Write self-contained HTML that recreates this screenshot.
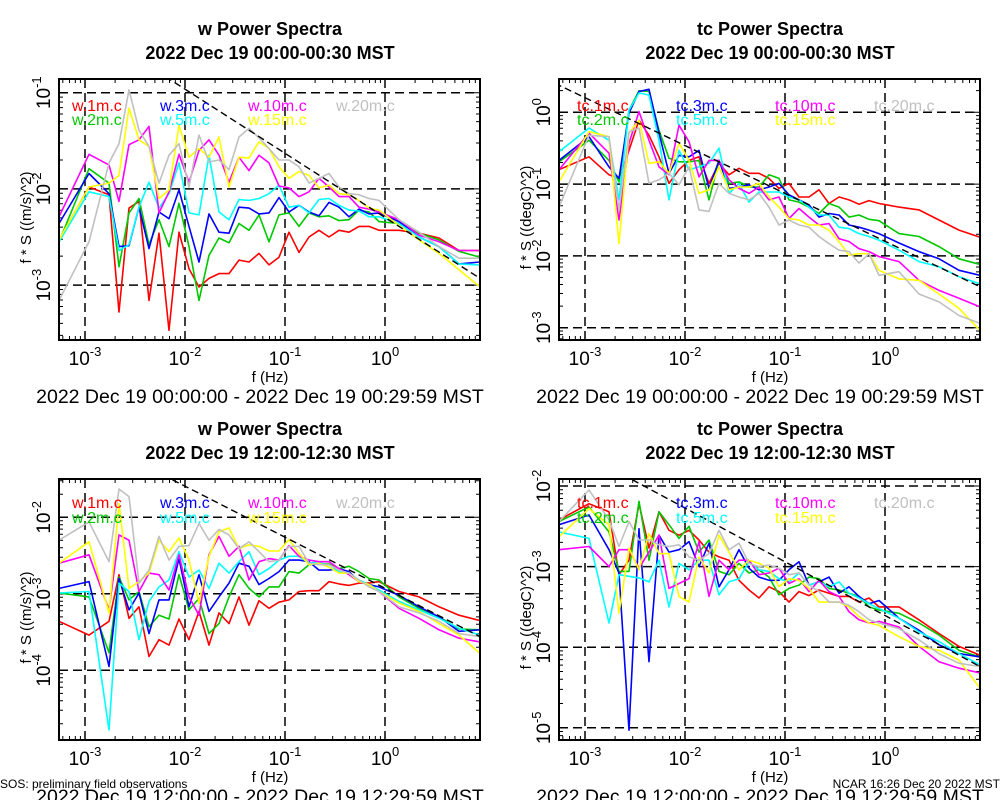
<!DOCTYPE html>
<html><head><meta charset="utf-8"><style>
html,body{margin:0;padding:0;background:#fff;}
svg{display:block;font-family:"Liberation Sans",sans-serif;}
</style></head><body>
<svg id="fig" width="1000" height="800" viewBox="0 0 1000 800"></svg>
<script>
// ---- data (log10 of frequency in Hz, log10 of f*S) ----
const freqLog10 = [-3.26,-2.96,-2.76,-2.66,-2.56,-2.46,-2.36,-2.26,-2.16,-2.06,-1.96,-1.86,-1.76,-1.66,-1.56,-1.46,-1.36,-1.26,-1.16,-1.06,-0.96,-0.86,-0.76,-0.66,-0.56,-0.46,-0.36,-0.26,-0.16,-0.06,0.14,0.34,0.54,0.74,0.95];
const seriesNames = ["1m","2m","3m","5m","10m","15m","20m"];
// panel 1: w, 00:00
const w00_1m = [-2.53,-1.98,-2.06,-3.28,-2.20,-2.13,-3.16,-2.46,-3.47,-2.45,-2.83,-3.02,-2.93,-2.88,-2.88,-2.74,-2.76,-2.67,-2.79,-2.71,-2.45,-2.66,-2.50,-2.43,-2.50,-2.43,-2.45,-2.39,-2.39,-2.43,-2.43,-2.46,-2.51,-2.64,-2.64];
const w00_2m = [-2.55,-1.79,-1.94,-2.81,-2.25,-2.10,-2.58,-2.32,-2.60,-2.15,-2.60,-3.16,-2.69,-2.51,-2.56,-2.36,-2.43,-2.27,-2.55,-2.27,-2.25,-2.39,-2.25,-2.29,-2.28,-2.33,-2.32,-2.22,-2.24,-2.34,-2.36,-2.46,-2.53,-2.65,-2.71];
const w00_3m = [-2.36,-1.84,-2.05,-2.60,-2.59,-2.19,-2.62,-2.24,-2.31,-2.01,-2.39,-2.76,-2.26,-2.45,-2.46,-2.19,-2.20,-2.26,-2.25,-2.09,-2.24,-2.17,-2.24,-2.28,-2.14,-2.19,-2.29,-2.21,-2.26,-2.25,-2.34,-2.50,-2.60,-2.78,-2.76];
const w00_5m = [-2.55,-2.03,-2.08,-2.64,-2.58,-2.19,-1.93,-2.20,-2.05,-1.73,-2.25,-2.27,-1.65,-2.24,-2.32,-2.11,-2.12,-2.10,-2.05,-1.96,-2.19,-2.17,-2.25,-2.11,-2.10,-2.17,-2.22,-2.23,-2.29,-2.29,-2.36,-2.50,-2.60,-2.78,-2.79];
const w00_10m = [-2.29,-1.64,-1.75,-2.13,-1.54,-1.49,-1.35,-2.25,-2.03,-1.64,-1.93,-1.60,-1.49,-1.65,-1.93,-1.67,-1.81,-1.65,-1.73,-1.97,-1.99,-2.08,-2.03,-1.89,-1.98,-2.08,-2.08,-2.19,-2.21,-2.24,-2.32,-2.48,-2.55,-2.64,-2.64];
const w00_15m = [-2.53,-1.98,-1.94,-1.86,-1.16,-1.49,-1.56,-2.10,-2.01,-1.34,-1.67,-1.58,-1.67,-1.46,-1.98,-1.67,-1.68,-1.51,-1.58,-1.77,-1.89,-1.82,-1.86,-1.99,-1.96,-2.05,-2.06,-2.12,-2.20,-2.22,-2.38,-2.53,-2.67,-2.84,-3.02];
const w00_20m = [-3.16,-2.55,-1.73,-1.53,-0.97,-1.39,-1.56,-1.94,-1.65,-1.53,-1.98,-1.44,-1.72,-1.70,-1.80,-1.46,-1.37,-1.47,-1.58,-1.70,-1.70,-1.77,-1.94,-1.89,-1.84,-1.98,-2.05,-2.06,-2.10,-2.12,-2.32,-2.45,-2.60,-2.72,-2.72];
// panel 2: tc, 00:00
const tc00_1m = [-0.80,-0.62,-0.87,-0.92,-0.53,-0.11,-0.32,-0.62,-0.99,-0.80,-0.67,-0.62,-0.99,-0.71,-0.87,-0.78,-0.85,-0.85,-0.92,-1.06,-0.99,-1.18,-1.18,-1.08,-1.27,-1.18,-1.22,-1.28,-1.23,-1.27,-1.32,-1.36,-1.50,-1.64,-1.74];
const tc00_2m = [-0.69,-0.39,-0.67,-0.97,0.03,0.30,0.29,-0.25,-0.64,-0.69,-0.69,-0.67,-1.22,-0.67,-0.99,-0.97,-1.04,-1.04,-0.87,-0.92,-1.22,-1.25,-1.32,-1.41,-1.27,-1.32,-1.46,-1.43,-1.49,-1.51,-1.69,-1.73,-1.87,-2.04,-2.12];
const tc00_3m = [-0.67,-0.34,-0.76,-0.92,-0.01,0.29,0.32,-0.29,-0.85,-0.60,-0.62,-0.53,-1.06,-0.67,-1.06,-1.04,-1.01,-1.08,-1.04,-0.99,-1.15,-1.22,-1.29,-1.46,-1.41,-1.43,-1.57,-1.60,-1.64,-1.69,-1.82,-1.94,-2.04,-2.20,-2.27];
const tc00_5m = [-0.55,-0.22,-0.39,-1.22,0.03,0.27,0.24,-0.39,-1.22,-0.53,-0.80,-0.76,-0.71,-0.50,-1.13,-0.99,-1.25,-1.11,-1.11,-1.11,-1.18,-1.22,-1.32,-1.43,-1.43,-1.60,-1.62,-1.69,-1.73,-1.78,-1.92,-2.08,-2.15,-2.29,-2.39];
const tc00_10m = [-0.80,-0.29,-0.57,-1.50,-0.43,0.01,-0.39,-0.76,-0.87,-0.18,-0.41,-0.90,-0.67,-0.67,-0.94,-1.06,-1.13,-1.04,-1.22,-1.18,-1.48,-1.34,-1.46,-1.57,-1.55,-1.76,-1.80,-1.90,-1.94,-2.01,-2.08,-2.34,-2.48,-2.59,-2.71];
const tc00_15m = [-0.97,-0.27,-0.34,-1.83,-0.29,-0.11,-0.71,-0.69,-0.85,-0.43,-0.67,-1.13,-1.08,-0.76,-1.08,-1.04,-1.04,-0.99,-1.18,-1.32,-1.48,-1.50,-1.57,-1.57,-1.64,-1.80,-1.99,-1.97,-1.97,-2.20,-2.32,-2.34,-2.53,-2.73,-3.04];
const tc00_20m = [-1.32,-0.32,-0.34,-1.36,-0.27,-0.22,-0.99,-0.94,-0.85,-1.01,-0.76,-1.36,-1.38,-0.99,-1.13,-1.18,-1.22,-1.13,-1.32,-1.57,-1.50,-1.57,-1.60,-1.73,-1.83,-1.92,-1.94,-2.10,-1.97,-2.27,-2.22,-2.53,-2.64,-2.83,-2.94];
// panel 3: w, 12:00
const w12_1m = [-3.36,-3.54,-3.36,-2.75,-3.32,-3.17,-3.82,-3.60,-3.67,-3.33,-3.60,-3.23,-3.67,-3.25,-3.39,-3.04,-3.41,-3.09,-3.19,-3.11,-3.08,-2.97,-2.96,-2.96,-2.84,-2.87,-2.89,-2.86,-2.86,-2.84,-2.97,-3.04,-3.17,-3.28,-3.35];
const w12_2m = [-2.99,-3.04,-3.77,-2.78,-3.08,-2.97,-3.43,-3.28,-3.33,-2.75,-3.21,-3.06,-3.52,-3.39,-3.04,-2.75,-2.93,-3.04,-2.91,-2.91,-2.71,-2.73,-2.62,-2.61,-2.61,-2.67,-2.64,-2.71,-2.80,-2.82,-3.04,-3.19,-3.30,-3.46,-3.47];
const w12_3m = [-2.93,-2.84,-3.95,-2.80,-3.21,-2.99,-3.52,-3.08,-3.08,-2.54,-3.17,-2.75,-3.23,-3.04,-2.86,-2.60,-2.64,-2.88,-2.80,-2.71,-2.56,-2.56,-2.58,-2.69,-2.69,-2.67,-2.71,-2.84,-2.88,-2.91,-3.02,-3.17,-3.30,-3.49,-3.47];
const w12_5m = [-2.99,-2.97,-4.78,-2.86,-2.97,-3.60,-3.10,-2.91,-2.82,-2.45,-2.78,-2.69,-2.93,-2.60,-2.73,-2.58,-2.45,-2.75,-2.67,-2.56,-2.51,-2.51,-2.60,-2.58,-2.65,-2.71,-2.73,-2.82,-2.88,-2.95,-3.10,-3.21,-3.32,-3.45,-3.54];
const w12_10m = [-2.60,-2.49,-3.21,-2.23,-2.30,-2.97,-2.73,-2.75,-2.95,-2.49,-3.04,-3.28,-2.49,-2.25,-2.51,-2.38,-2.82,-2.58,-2.54,-2.56,-2.37,-2.51,-2.56,-2.58,-2.58,-2.67,-2.75,-2.84,-2.88,-2.97,-3.19,-3.32,-3.47,-3.58,-3.63];
const w12_15m = [-2.60,-2.32,-3.25,-1.82,-2.93,-2.84,-2.73,-2.30,-2.45,-2.27,-2.56,-3.12,-2.51,-2.19,-2.14,-2.41,-2.36,-2.38,-2.44,-2.44,-2.29,-2.47,-2.62,-2.60,-2.65,-2.73,-2.73,-2.84,-2.88,-2.97,-3.12,-3.23,-3.39,-3.54,-3.78];
const w12_20m = [-2.30,-2.06,-2.58,-1.63,-1.73,-2.86,-2.69,-2.25,-2.56,-2.38,-2.37,-2.08,-2.30,-2.16,-2.23,-2.41,-2.32,-2.45,-2.58,-2.56,-2.38,-2.38,-2.60,-2.62,-2.62,-2.69,-2.73,-2.82,-2.91,-2.97,-3.17,-3.25,-3.36,-3.52,-3.56];
// panel 4: tc, 12:00
const tc12_1m = [-2.42,-2.22,-2.32,-3.10,-2.92,-2.22,-2.77,-2.32,-2.55,-2.61,-2.55,-2.67,-2.82,-2.88,-2.92,-3.17,-3.29,-3.39,-3.25,-3.31,-3.44,-3.31,-3.36,-3.29,-3.33,-3.37,-3.37,-3.44,-3.39,-3.50,-3.50,-3.66,-3.83,-3.99,-4.10];
const tc12_2m = [-2.44,-2.26,-2.57,-3.06,-3.06,-2.19,-2.92,-2.32,-2.48,-2.65,-2.50,-2.82,-2.67,-3.06,-3.10,-2.96,-3.08,-3.04,-3.13,-3.35,-3.27,-3.23,-3.13,-3.15,-3.27,-3.29,-3.33,-3.37,-3.50,-3.54,-3.58,-3.70,-3.85,-4.04,-4.12];
const tc12_3m = [-2.48,-2.36,-2.79,-3.08,-5.03,-2.53,-4.18,-2.61,-2.82,-2.79,-2.69,-3.00,-2.71,-3.25,-3.04,-2.79,-3.02,-3.13,-3.17,-3.17,-3.04,-2.94,-3.23,-3.19,-3.13,-3.33,-3.25,-3.37,-3.46,-3.42,-3.64,-3.79,-3.97,-4.08,-4.12];
const tc12_5m = [-2.57,-2.65,-3.70,-3.10,-3.12,-3.14,-3.19,-2.92,-3.50,-2.96,-3.04,-2.92,-2.92,-3.35,-3.19,-3.15,-2.94,-3.04,-3.06,-3.15,-3.19,-3.08,-3.23,-3.19,-3.25,-3.19,-3.33,-3.39,-3.46,-3.52,-3.64,-3.81,-3.93,-4.08,-4.22];
const tc12_10m = [-2.79,-2.75,-3.00,-2.79,-2.79,-3.02,-2.82,-2.61,-3.27,-3.21,-3.15,-2.69,-3.37,-2.92,-3.04,-2.92,-2.92,-3.10,-3.08,-3.02,-3.21,-3.15,-3.31,-3.17,-3.31,-3.37,-3.56,-3.66,-3.70,-3.68,-3.75,-3.99,-4.18,-4.26,-4.32];
const tc12_15m = [-2.63,-2.28,-2.48,-3.58,-2.77,-3.04,-2.59,-2.84,-2.84,-3.37,-3.44,-2.88,-3.08,-2.61,-2.82,-3.04,-2.92,-2.96,-3.02,-3.25,-3.15,-3.17,-3.27,-3.44,-3.44,-3.44,-3.50,-3.62,-3.70,-3.73,-3.87,-3.99,-4.04,-4.16,-4.51];
const tc12_20m = [-2.44,-2.05,-2.42,-2.75,-2.44,-2.67,-2.67,-2.73,-2.75,-2.73,-2.88,-2.92,-2.84,-2.55,-2.79,-2.71,-2.96,-3.00,-2.98,-3.02,-3.10,-3.08,-3.23,-3.31,-3.44,-3.44,-3.48,-3.56,-3.66,-3.70,-3.77,-3.91,-4.08,-4.20,-4.24];
// reference -2/3 slope line: log10(f*S) at f = 10^0.95 for each panel
const refLineAnchor = [-2.93, -2.43, -3.56, -4.24];
const refLineSlope = -2/3;
const xTickExps = [-3,-2,-1,0];
const yTickExps0 = [-1,-2,-3];
const yTickExps1 = [0,-1,-2,-3];
const yTickExps2 = [-2,-3,-4];
const yTickExps3 = [-2,-3,-4,-5];

const NS = "http://www.w3.org/2000/svg";
const svg = document.getElementById("fig");
const colors = ["#ff0000","#00c800","#0000ff","#00ffff","#ff00ff","#ffff00","#c0c0c0"];
function mk(tag, attrs, parent){
  const e = document.createElementNS(NS, tag);
  for (const k in attrs) e.setAttribute(k, attrs[k]);
  (parent||svg).appendChild(e);
  return e;
}
const panels = [
  {var:"w", pre:"w", ox:0, oy:0, top:79, bot:340, refY:92.7, refE:-1, perDec:96.2, ticks:yTickExps0, data:[w00_1m,w00_2m,w00_3m,w00_5m,w00_10m,w00_15m,w00_20m], time:"00:00-00:30", range:"2022 Dec 19 00:00:00 - 2022 Dec 19 00:29:59 MST", unit:"(m/s)^2"},
  {var:"tc", pre:"tc", ox:500, oy:0, top:79, bot:340, refY:112.3, refE:0, perDec:71.8, ticks:yTickExps1, data:[tc00_1m,tc00_2m,tc00_3m,tc00_5m,tc00_10m,tc00_15m,tc00_20m], time:"00:00-00:30", range:"2022 Dec 19 00:00:00 - 2022 Dec 19 00:29:59 MST", unit:"(degC)^2"},
  {var:"w", pre:"w", ox:0, oy:400, top:479, bot:740, refY:517.3, refE:-2, perDec:76.5, ticks:yTickExps2, data:[w12_1m,w12_2m,w12_3m,w12_5m,w12_10m,w12_15m,w12_20m], time:"12:00-12:30", range:"2022 Dec 19 12:00:00 - 2022 Dec 19 12:29:59 MST", unit:"(m/s)^2"},
  {var:"tc", pre:"tc", ox:500, oy:400, top:479, bot:740, refY:486, refE:-2, perDec:80.6, ticks:yTickExps3, data:[tc12_1m,tc12_2m,tc12_3m,tc12_5m,tc12_10m,tc12_15m,tc12_20m], time:"12:00-12:30", range:"2022 Dec 19 12:00:00 - 2022 Dec 19 12:29:59 MST", unit:"(degC)^2"}
];
const defs = mk("defs", {});
panels.forEach((p, pi) => {
  const L = 59 + p.ox, R = 480 + p.ox;
  const xs = lf => 85 + p.ox + (lf + 3) * 100;
  const ys = v => p.refY + (p.refE - v) * p.perDec;
  const g = mk("g", {});
  
  
  const cp = mk("clipPath", {id:"clip"+pi}, defs);
  mk("rect", {x:L, y:p.top, width:R-L, height:p.bot-p.top}, cp);
  const cx = 270 + p.ox;
  const t1 = mk("text", {x:cx, y:35+p.oy, "text-anchor":"middle", "font-size":"18", "font-weight":"bold"}, g);
  t1.textContent = p.var + " Power Spectra";
  
  
  const t2 = mk("text", {x:cx, y:59+p.oy, "text-anchor":"middle", "font-size":"18", "font-weight":"bold"}, g);
  t2.textContent = "2022 Dec 19 " + p.time + " MST";
  
  
  xTickExps.forEach(e => {
    const gl = mk("line", {x1:xs(e), x2:xs(e), y1:p.top, y2:p.bot, stroke:"#000", "stroke-width":"1.5", "stroke-dasharray":"9,5"}, g);
    
    
  });
  p.ticks.forEach(e => {
    const gl = mk("line", {x1:L, x2:R, y1:ys(e), y2:ys(e), stroke:"#000", "stroke-width":"1.5", "stroke-dasharray":"9,5"}, g);
    
    
  });
  let tk = "";
  for (let e = -4; e <= 1; e++) for (let m = 1; m <= 9; m++) {
    const x = xs(e + Math.log10(m));
    if (x < L || x > R) continue;
    const len = m === 1 ? 8 : 4;
    tk += `M${x},${p.bot}v${-len}M${x},${p.top}v${len}`;
  }
  for (let e = -6; e <= 1; e++) for (let m = 1; m <= 9; m++) {
    const y = ys(e + Math.log10(m));
    if (y < p.top || y > p.bot) continue;
    const len = m === 1 ? 8 : 4;
    tk += `M${L},${y}h${len}M${R},${y}h${-len}`;
  }
  const tp = mk("path", {d:tk, stroke:"#000", "stroke-width":"1", fill:"none"}, g);
  
  
  const sg = mk("g", {"clip-path":`url(#clip${pi})`}, g);
  p.data.forEach((arr, si) => {
    const d = arr.map((v, i) => (i ? "L" : "M") + xs(freqLog10[i]).toFixed(1) + "," + ys(v).toFixed(1)).join("");
    const pl = mk("path", {d:d, stroke:colors[si], "stroke-width":"1.6", fill:"none", "stroke-linejoin":"round"}, sg);
    
    
  });
  const a = refLineAnchor[pi];
  const lf0 = -3.4, lf1 = 0.95;
  const rl = mk("line", {x1:xs(lf0), y1:ys(a + refLineSlope*(lf0-0.95)), x2:xs(lf1), y2:ys(a), stroke:"#000", "stroke-width":"1.4", "stroke-dasharray":"7,4"}, sg);
  
  
  const fr = mk("rect", {x:L, y:p.top, width:R-L, height:p.bot-p.top, fill:"none", stroke:"#000", "stroke-width":"2"}, g);
  
  
  const lx = p.pre === "w" ? [72,160,248,336] : [77,176,275,374];
  const ly = pi < 2 ? [111,125] : [508,523];
  const order = [[0,0,0],[1,0,1],[2,1,0],[3,1,1],[4,2,0],[5,2,1],[6,3,0]];
  order.forEach(([si, c, r]) => {
    const lt = mk("text", {x:lx[c]+p.ox, y:ly[r], "font-size":"16", fill:colors[si]}, g);
    lt.textContent = p.pre + "." + seriesNames[si] + ".c";
    
    
  });
  xTickExps.forEach(e => {
    const xt = mk("text", {x:xs(e), y:p.bot+25, "text-anchor":"middle", "font-size":"19"}, g);
    xt.innerHTML = `10<tspan dy="-9" font-size="13">${e}</tspan>`;
    
    
  });
  p.ticks.forEach(e => {
    const y = ys(e);
    const yt = mk("text", {transform:`translate(${50+p.ox},${y}) rotate(-90)`, "text-anchor":"middle", "font-size":"19"}, g);
    yt.innerHTML = `10<tspan dy="-9" font-size="13">${e}</tspan>`;
    
    
  });
  const yTitle = mk("text", {transform:`translate(${31+p.ox},${(p.top+p.bot)/2+8}) rotate(-90)`, "text-anchor":"middle", "font-size":"15"}, g);
  yTitle.textContent = "f * S (" + p.unit + ")";
  
  
  const xTitle = mk("text", {x:cx, y:p.bot+42, "text-anchor":"middle", "font-size":"15"}, g);
  xTitle.textContent = "f (Hz)";
  
  
  const rt = mk("text", {x:260+p.ox, y:p.bot+63, "text-anchor":"middle", "font-size":"19.5"}, g);
  rt.textContent = p.range;
  
  
});
const sos = mk("text", {x:0, y:788, "font-size":"12"});
sos.textContent = "SOS: preliminary field observations";


const ncar = mk("text", {x:1000, y:788, "font-size":"12", "text-anchor":"end"});
ncar.textContent = "NCAR 16:26 Dec 20 2022 MST";


</script>
</body></html>
